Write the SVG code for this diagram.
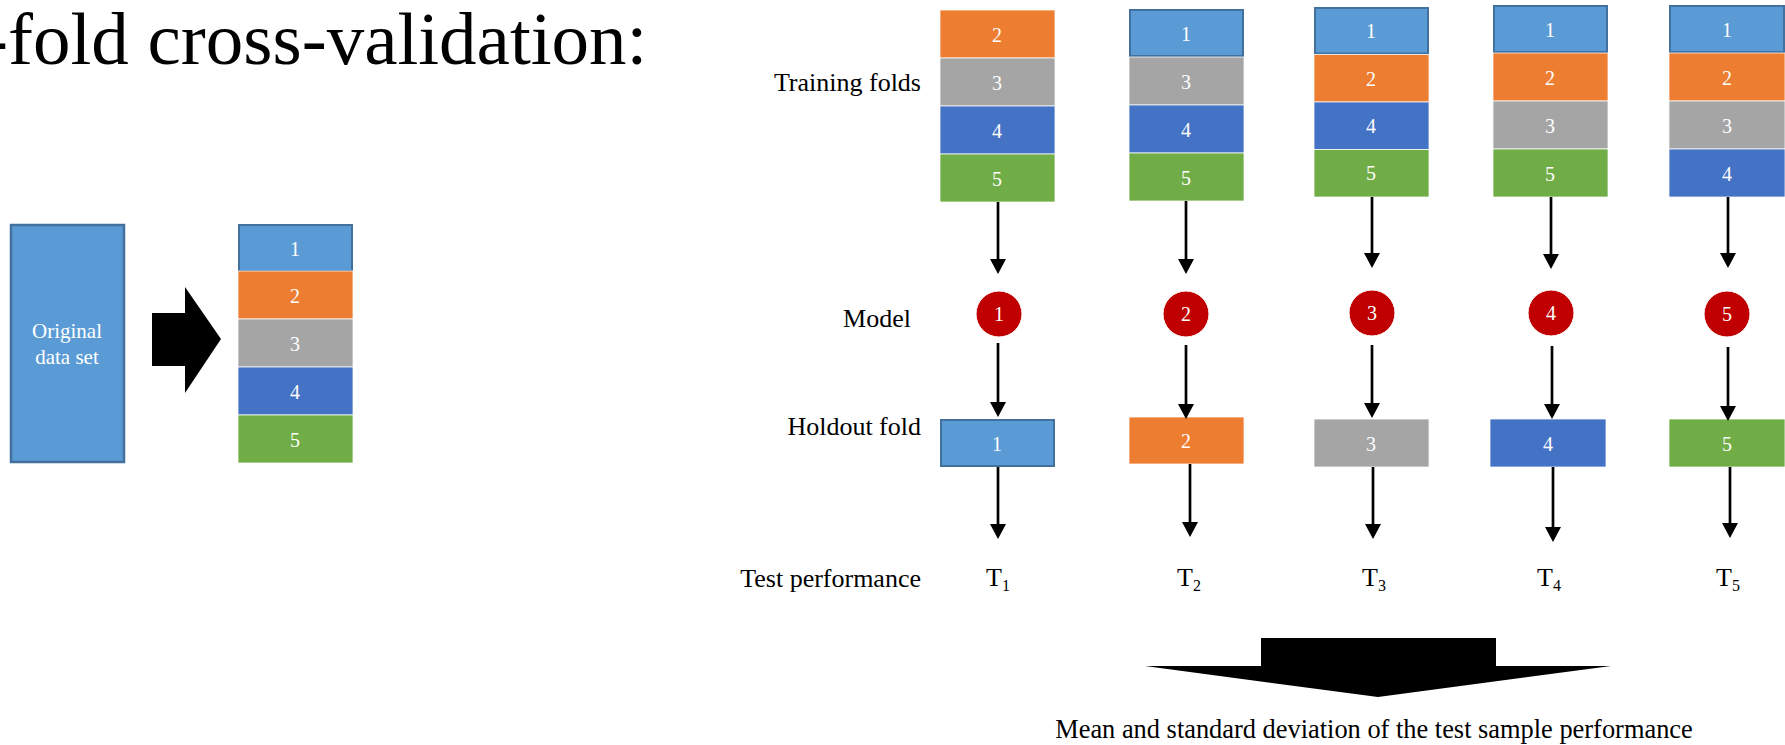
<svg xmlns="http://www.w3.org/2000/svg" width="1785" height="745" viewBox="0 0 1785 745" font-family="'Liberation Serif', 'DejaVu Serif', serif">
<style>
text{font-family:'Liberation Serif','DejaVu Serif',serif;fill:#000}
.lbl{font-size:26px}
.num{font-size:20px;fill:#fff;text-anchor:middle}
.f1{fill:#5B9BD5;stroke:#41719C;stroke-width:2}
.f2{fill:#ED7D31;stroke:#fff;stroke-width:0.75}
.f3{fill:#A5A5A5;stroke:#fff;stroke-width:0.75}
.f4{fill:#4472C4;stroke:#fff;stroke-width:0.75}
.f5{fill:#70AD47;stroke:#fff;stroke-width:0.75}
.model{fill:#C00000;stroke:#fff;stroke-width:1}
.conn line{stroke:#000;stroke-width:2.7;marker-end:url(#ah)}
</style>
<defs>
<marker id="ah" viewBox="0 0 15 16" refX="0" refY="8" markerWidth="15" markerHeight="16" markerUnits="userSpaceOnUse" orient="auto">
<path d="M0,0 L15,8 L0,16 z" fill="#000"/>
</marker>
</defs>
<rect width="1785" height="745" fill="#fff"/>

<text id="title" x="-17" y="64" font-size="75" font-family="Liberation Serif">-fold cross-validation:</text>

<g id="original">
<rect x="11" y="225" width="113" height="237" fill="#5B9BD5" stroke="#41719C" stroke-width="2.5"/>
<text x="67" y="338" font-size="21" text-anchor="middle" style="fill:#fff">Original</text>
<text x="67" y="364" font-size="21" text-anchor="middle" style="fill:#fff">data set</text>
</g>

<g id="split-arrow">
<polygon points="152,313 185,313 185,287 221,339 185,393 185,366 152,366" fill="#000"/>
</g>

<g id="folds">
<rect class="f1" x="239" y="225" width="113" height="46"/>
<text class="num" x="295" y="256">1</text>
<rect class="f2" x="238" y="271" width="115" height="48"/>
<text class="num" x="295" y="303">2</text>
<rect class="f3" x="238" y="319" width="115" height="48"/>
<text class="num" x="295" y="351">3</text>
<rect class="f4" x="238" y="367" width="115" height="48"/>
<text class="num" x="295" y="399">4</text>
<rect class="f5" x="238" y="415" width="115" height="48"/>
<text class="num" x="295" y="447">5</text>
</g>

<g id="row-labels">
<text class="lbl" x="921" y="91" text-anchor="end">Training folds</text>
<text class="lbl" x="911" y="327" text-anchor="end">Model</text>
<text class="lbl" x="921" y="435" text-anchor="end">Holdout fold</text>
<text class="lbl" x="921" y="587" text-anchor="end">Test performance</text>
</g>

<g id="train1">
<rect class="f2" x="940" y="10" width="115" height="48"/>
<text class="num" x="997" y="42">2</text>
<rect class="f3" x="940" y="58" width="115" height="48"/>
<text class="num" x="997" y="90">3</text>
<rect class="f4" x="940" y="106" width="115" height="48"/>
<text class="num" x="997" y="138">4</text>
<rect class="f5" x="940" y="154" width="115" height="48"/>
<text class="num" x="997" y="186">5</text>
</g>
<g id="train2">
<rect class="f1" x="1130" y="10" width="113" height="46"/>
<text class="num" x="1186" y="41">1</text>
<rect class="f3" x="1129" y="57" width="115" height="48"/>
<text class="num" x="1186" y="89">3</text>
<rect class="f4" x="1129" y="105" width="115" height="48"/>
<text class="num" x="1186" y="137">4</text>
<rect class="f5" x="1129" y="153" width="115" height="48"/>
<text class="num" x="1186" y="185">5</text>
</g>
<g id="train3">
<rect class="f1" x="1315" y="8" width="113" height="45.5"/>
<text class="num" x="1371" y="38">1</text>
<rect class="f2" x="1314" y="54.5" width="115" height="47.5"/>
<text class="num" x="1371" y="86">2</text>
<rect class="f4" x="1314" y="102" width="115" height="47.5"/>
<text class="num" x="1371" y="133">4</text>
<rect class="f5" x="1314" y="149.5" width="115" height="47.5"/>
<text class="num" x="1371" y="180">5</text>
</g>
<g id="train4">
<rect class="f1" x="1494" y="6" width="113" height="46"/>
<text class="num" x="1550" y="37">1</text>
<rect class="f2" x="1493" y="53" width="115" height="48"/>
<text class="num" x="1550" y="85">2</text>
<rect class="f3" x="1493" y="101" width="115" height="48"/>
<text class="num" x="1550" y="133">3</text>
<rect class="f5" x="1493" y="149" width="115" height="48"/>
<text class="num" x="1550" y="181">5</text>
</g>
<g id="train5">
<rect class="f1" x="1670" y="6" width="114" height="46"/>
<text class="num" x="1727" y="37">1</text>
<rect class="f2" x="1669" y="53" width="116" height="48"/>
<text class="num" x="1727" y="85">2</text>
<rect class="f3" x="1669" y="101" width="116" height="48"/>
<text class="num" x="1727" y="133">3</text>
<rect class="f4" x="1669" y="149" width="116" height="48"/>
<text class="num" x="1727" y="181">4</text>
</g>

<g id="model1"><circle class="model" cx="999" cy="314" r="23"/><text class="num" x="999" y="321">1</text></g>
<g id="model2"><circle class="model" cx="1186" cy="314" r="23"/><text class="num" x="1186" y="321">2</text></g>
<g id="model3"><circle class="model" cx="1372" cy="313" r="23"/><text class="num" x="1372" y="320">3</text></g>
<g id="model4"><circle class="model" cx="1551" cy="313" r="23"/><text class="num" x="1551" y="320">4</text></g>
<g id="model5"><circle class="model" cx="1727" cy="314" r="23"/><text class="num" x="1727" y="321">5</text></g>

<g id="holdout1"><rect class="f1" x="941" y="420" width="113" height="46"/><text class="num" x="997" y="451">1</text></g>
<g id="holdout2"><rect class="f2" x="1129" y="417" width="115" height="47"/><text class="num" x="1186" y="448">2</text></g>
<g id="holdout3"><rect class="f3" x="1314" y="419" width="115" height="48"/><text class="num" x="1371" y="451">3</text></g>
<g id="holdout4"><rect class="f4" x="1490" y="419" width="116" height="48"/><text class="num" x="1548" y="451">4</text></g>
<g id="holdout5"><rect class="f5" x="1669" y="419" width="116" height="48"/><text class="num" x="1727" y="451">5</text></g>

<g id="perf1"><text class="lbl" x="986" y="586">T<tspan font-size="16" dy="5">1</tspan></text></g>
<g id="perf2"><text class="lbl" x="1177" y="586">T<tspan font-size="16" dy="5">2</tspan></text></g>
<g id="perf3"><text class="lbl" x="1362" y="586">T<tspan font-size="16" dy="5">3</tspan></text></g>
<g id="perf4"><text class="lbl" x="1537" y="586">T<tspan font-size="16" dy="5">4</tspan></text></g>
<g id="perf5"><text class="lbl" x="1716" y="586">T<tspan font-size="16" dy="5">5</tspan></text></g>

<g id="connectors" class="conn">
<line x1="998" y1="202" x2="998" y2="259"/>
<line x1="1186" y1="201" x2="1186" y2="259"/>
<line x1="1372" y1="197" x2="1372" y2="253"/>
<line x1="1551" y1="197" x2="1551" y2="254"/>
<line x1="1728" y1="197" x2="1728" y2="253"/>
<line x1="998" y1="343" x2="998" y2="402"/>
<line x1="1186" y1="345" x2="1186" y2="404"/>
<line x1="1372" y1="345" x2="1372" y2="403"/>
<line x1="1552" y1="346" x2="1552" y2="404"/>
<line x1="1728" y1="347" x2="1728" y2="406"/>
<line x1="998" y1="467" x2="998" y2="524"/>
<line x1="1190" y1="464" x2="1190" y2="522"/>
<line x1="1373" y1="467" x2="1373" y2="524"/>
<line x1="1553" y1="467" x2="1553" y2="527"/>
<line x1="1730" y1="467" x2="1730" y2="523"/>
</g>

<g id="summary-arrow">
<polygon points="1261,638 1496,638 1496,666 1611,666 1378,697 1145,666 1261,666" fill="#000"/>
</g>
<g id="summary">
<text class="lbl" x="1374" y="738" text-anchor="middle" style="font-size:26.4px">Mean and standard deviation of the test sample performance</text>
</g>
</svg>
